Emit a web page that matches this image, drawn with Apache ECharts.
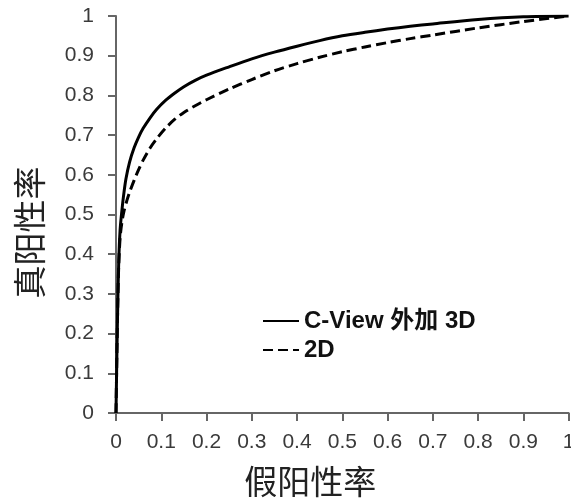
<!DOCTYPE html>
<html>
<head>
<meta charset="utf-8">
<script src="https://cdn.jsdelivr.net/npm/echarts@6/dist/echarts.min.js"></script>
<style>
  html, body { margin: 0; padding: 0; background: #fff; }
  #chart { width: 571px; height: 502px; }
</style>
</head>
<body>
<div id="chart"></div>
<script>
// ROC curves (false positive rate -> true positive rate)
const cviewFpr = [0, 0.002, 0.004, 0.006, 0.009, 0.013, 0.017, 0.022, 0.030, 0.040, 0.050, 0.060, 0.075, 0.090, 0.110, 0.130, 0.150, 0.175, 0.200, 0.250, 0.300, 0.350, 0.400, 0.450, 0.500, 0.550, 0.600, 0.650, 0.700, 0.800, 0.900, 1.000];
const cviewTpr = [0, 0.15, 0.28, 0.38, 0.46, 0.51, 0.55, 0.59, 0.632, 0.668, 0.695, 0.717, 0.743, 0.765, 0.788, 0.806, 0.822, 0.838, 0.851, 0.872, 0.892, 0.909, 0.924, 0.938, 0.950, 0.959, 0.967, 0.974, 0.980, 0.991, 0.998, 1.0];
const twoDFpr = [0, 0.002, 0.004, 0.006, 0.009, 0.013, 0.018, 0.024, 0.030, 0.040, 0.050, 0.060, 0.075, 0.090, 0.110, 0.130, 0.150, 0.175, 0.200, 0.250, 0.300, 0.350, 0.400, 0.450, 0.500, 0.550, 0.600, 0.650, 0.700, 0.800, 0.900, 1.000];
const twoDTpr = [0, 0.15, 0.28, 0.37, 0.44, 0.48, 0.51, 0.535, 0.556, 0.586, 0.613, 0.637, 0.667, 0.691, 0.718, 0.740, 0.757, 0.774, 0.789, 0.816, 0.840, 0.862, 0.880, 0.896, 0.910, 0.922, 0.933, 0.943, 0.952, 0.970, 0.986, 1.0];
const seriesNames = ["C-View 外加 3D", "2D"];
const xTitle = "假阳性率";
const yTitle = "真阳性率";

const font = "'Liberation Sans', Arial, 'Noto Sans CJK SC', sans-serif";
const cjkFont = "'Noto Sans CJK SC', sans-serif";

const pairs = (xs, ys) => xs.map((x, i) => [x, ys[i]]);

const myChart = echarts.init(document.getElementById("chart"));

const axisCommon = {
  type: "value",
  min: 0,
  max: 1,
  interval: 0.1,
  splitLine: { show: false },
  axisLine: { show: true, lineStyle: { color: "#666", width: 2 } },
  axisTick: { show: true, length: 8, lineStyle: { color: "#666", width: 2 } },
  axisLabel: {
    color: "#3a3a3a",
    fontSize: 21,
    fontFamily: font,
    formatter: v => String(Math.round(v * 10) / 10)
  },
  nameLocation: "middle",
  nameTextStyle: { fontSize: 33, color: "#222", fontFamily: cjkFont }
};

const option = {
  animation: false,
  backgroundColor: "#fff",
  grid: { left: 116, right: 2.4, top: 16, bottom: 89, outerBoundsMode: "none" },
  legend: {
    orient: "vertical",
    left: 257,
    top: 303,
    itemWidth: 36,
    itemHeight: 14,
    itemGap: 3,
    itemStyle: { opacity: 0 },
    textStyle: { fontSize: 24, fontWeight: "bold", color: "#111", fontFamily: font, lineHeight: 26 },
    data: seriesNames
  },
  xAxis: Object.assign({}, axisCommon, {
    name: xTitle,
    nameGap: 52,
    nameTextStyle: Object.assign({}, axisCommon.nameTextStyle, { padding: [0, 64, 0, 0] }),
    axisLabel: Object.assign({}, axisCommon.axisLabel, { margin: 19 })
  }),
  yAxis: Object.assign({}, axisCommon, {
    name: yTitle,
    nameGap: 70,
    nameRotate: 90,
    nameTextStyle: Object.assign({}, axisCommon.nameTextStyle, { padding: [0, 36, 0, 0] }),
    axisLabel: Object.assign({}, axisCommon.axisLabel, { margin: 22 })
  }),
  series: [
    {
      name: seriesNames[0],
      type: "line",
      data: pairs(cviewFpr, cviewTpr),
      symbol: "none",
      smooth: 0.3,
      lineStyle: { color: "#000", width: 3 },
      itemStyle: { color: "#000" }
    },
    {
      name: seriesNames[1],
      type: "line",
      data: pairs(twoDFpr, twoDTpr),
      symbol: "none",
      smooth: 0.3,
      lineStyle: { color: "#000", width: 3, type: [10, 5] },
      itemStyle: { color: "#000" }
    }
  ]
};

myChart.setOption(option);
</script>
</body>
</html>
